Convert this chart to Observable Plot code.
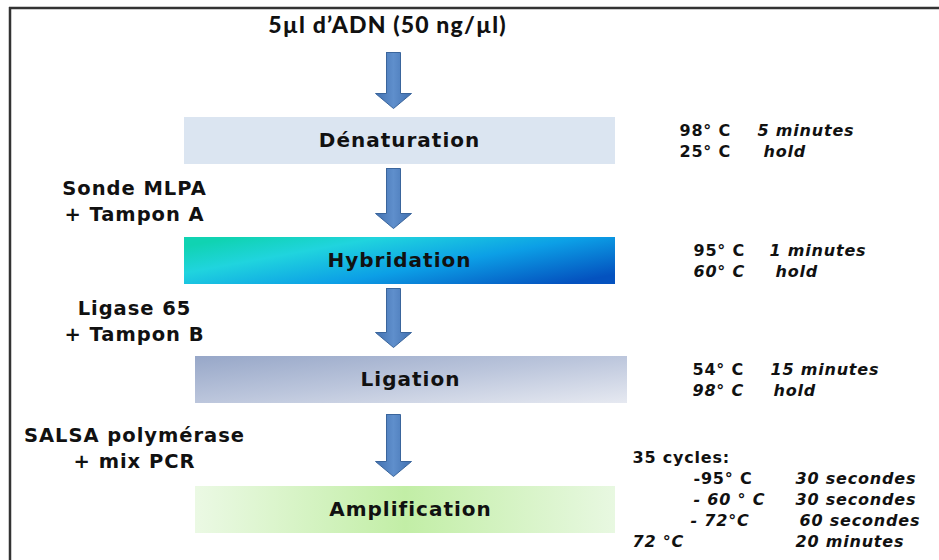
<!DOCTYPE html>
<html><head><meta charset="utf-8">
<script src="https://cdn.jsdelivr.net/npm/d3@7"></script>
<script src="https://cdn.jsdelivr.net/npm/@observablehq/plot@0.6"></script>
<style>
html,body{margin:0;padding:0;background:#fff;}
svg text{letter-spacing:0.05em;}
</style>
</head><body><div id="chart"></div>
<script>
// ---- content (data) ----
const title = "5µl d’ADN (50 ng/µl)";
const steps = ["Dénaturation", "Hybridation", "Ligation", "Amplification"];
const reagentLine1 = ["Sonde MLPA", "Ligase 65", "SALSA polymérase"];
const reagentLine2 = ["+ Tampon A", "+ Tampon B", "+ mix PCR"];
const condTemps = ["98° C", "25° C", "95° C", "60° C", "54° C", "98° C", "35 cycles:", "-95° C", "- 60 ° C", "- 72°C", "72 °C"];
const condTimes = ["5 minutes", "hold", "1 minutes", "hold", "15 minutes", "hold", "", "30 secondes", "30 secondes", "60 secondes", "20 minutes"];
const condTempItalic = [false, false, false, true, false, true, false, false, true, true, true];

// ---- layout (positions, sizes, styles) ----
const boxTop = [117, 237, 356, 486];
const boxH = 47;
const boxX1 = [184, 184, 195, 195];
const boxX2 = [615, 615, 627, 615];
const boxFill = ["#dbe5f1", "url(#gHyb)", "url(#gLig)", "url(#gAmp)"];
const labelX = [399, 399, 410, 410];
const arrowCx = 393;
const arrowTop = [52, 168, 288, 414];
const arrowTip = [108, 228, 347, 476];
const reagentX = 134;
const reagentY = [188, 308, 435];
const lineGap = 26;
const condTempX = [679, 679, 693, 693, 692, 692, 632, 693, 693, 690, 632];
const condTimeX = [757, 763, 769, 775, 770, 773, 0, 795, 795, 799, 795];
const condY = [130, 151, 250, 271, 369, 390, 457, 478, 499, 520, 541];

const boxes = steps.map((s, i) => ({
  label: s, x1: boxX1[i], x2: boxX2[i], y1: boxTop[i], y2: boxTop[i] + boxH,
  fill: boxFill[i], cx: labelX[i], cy: boxTop[i] + boxH / 2
}));

const sw = 7, hw = 18, hl = 15;
const arrowPts = [];
arrowTop.forEach((t, i) => {
  const b = arrowTip[i], c = arrowCx;
  const pts = [[c - sw, t], [c + sw, t], [c + sw, b - hl], [c + hw, b - hl], [c, b], [c - hw, b - hl], [c - sw, b - hl], [c - sw, t]];
  pts.forEach(([x, y]) => arrowPts.push({a: i, x, y}));
});

const reagents = [];
reagentLine1.forEach((t, i) => {
  reagents.push({t, x: reagentX, y: reagentY[i]});
  reagents.push({t: reagentLine2[i], x: reagentX, y: reagentY[i] + lineGap});
});

const conds = condTemps.map((t, i) => ({t, x: condTempX[i], y: condY[i], it: condTempItalic[i]}));
const times = condTimes.map((t, i) => ({t, x: condTimeX[i], y: condY[i]})).filter(d => d.t);

const font = "DejaVu Sans";
const cs = 16;
const chart = Plot.plot({
  width: 939, height: 560,
  margin: 0,
  x: {domain: [0, 939], range: [0, 939], axis: null},
  y: {domain: [0, 560], range: [0, 560], axis: null},
  style: {background: "#fff", color: "#111"},
  marks: [
    Plot.ruleY([7.5], {x1: 9, x2: 939, stroke: "#333", strokeWidth: 2.5}),
    Plot.ruleX([9.5], {y1: 7, y2: 560, stroke: "#333", strokeWidth: 2.5}),
    Plot.rect(boxes, {x1: "x1", x2: "x2", y1: "y1", y2: "y2", fill: "fill"}),
    Plot.line(arrowPts, {x: "x", y: "y", z: "a", fill: "url(#gArrow)", stroke: "#3a659c", strokeWidth: 1, curve: "linear"}),
    Plot.text([title], {x: 387, y: 25, text: d => d, fontFamily: "Lato", fontWeight: 900, fontSize: 23, fill: "#111"}),
    Plot.text(boxes, {x: "cx", y: "cy", text: "label", fontFamily: font, fontWeight: "bold", fontSize: 20, fill: "#111"}),
    Plot.text(reagents, {x: "x", y: "y", text: "t", fontFamily: font, fontWeight: "bold", fontSize: 19.5, fill: "#111"}),
    Plot.text(conds.filter(d => !d.it), {x: "x", y: "y", text: "t", textAnchor: "start", fontFamily: font, fontWeight: "bold", fontSize: cs, fill: "#111"}),
    Plot.text(conds.filter(d => d.it), {x: "x", y: "y", text: "t", textAnchor: "start", fontFamily: font, fontWeight: "bold", fontStyle: "italic", fontSize: cs, fill: "#111"}),
    Plot.text(times, {x: "x", y: "y", text: "t", textAnchor: "start", fontFamily: font, fontWeight: "bold", fontStyle: "italic", fontSize: cs, fill: "#111"})
  ]
});

const svg = d3.select(chart);
const defs = svg.insert("defs", ":first-child");
function grad(id, stops, x1, y1, x2, y2) {
  const g = defs.append("linearGradient").attr("id", id)
    .attr("x1", x1).attr("y1", y1).attr("x2", x2).attr("y2", y2);
  stops.forEach(([o, c]) => g.append("stop").attr("offset", o).attr("stop-color", c));
}
grad("gHyb", [[0, "#10d3b2"], [0.25, "#20d4de"], [0.6, "#0c9fe6"], [1, "#0452bf"]], 0, 0.2, 1, 0.8);
grad("gLig", [[0, "#97a7c8"], [0.5, "#bcc6dc"], [1, "#e6e9f1"]], 0, 0, 1, 1);
grad("gAmp", [[0, "#ebf9e4"], [0.5, "#c2eea6"], [1, "#e8f8e1"]], 0, 0, 1, 0);
grad("gArrow", [[0, "#4170b0"], [0.5, "#5f8fcc"], [1, "#4170b0"]], 0, 0, 1, 0);

document.getElementById("chart").appendChild(chart);
</script>
</body></html>
